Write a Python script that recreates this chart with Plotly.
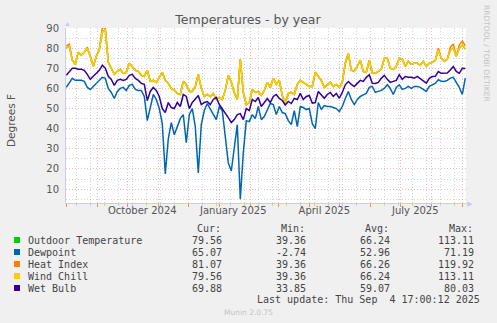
import plotly.graph_objects as go
import pandas as pd

dates = pd.date_range("2024-08-01", periods=134, freq="3D")

outdoor_temp = [
    80, 81, 74, 72, 78, 76.5, 78, 80, 76, 71,
    76, 79, 88, 89, 73, 70, 67, 68.5, 69.5, 67.5,
    68, 72.5, 71, 69, 68.5, 66.5, 66, 69, 63.5, 64,
    63, 65.5, 68, 64, 62.5, 60, 59, 57.5, 57, 63.5,
    62, 58.5, 58.5, 61, 67, 60, 56, 57, 56, 57.5,
    54.5, 55.5, 54.5, 59, 66.5, 63, 58, 54.5, 74.5, 58,
    52, 53, 59.5, 58, 58.5, 56.5, 59, 63, 60.5, 65,
    62, 64, 56.5, 52.7, 57.5, 58, 57, 62, 64, 63,
    62, 61, 61, 68, 66, 64, 60.5, 62, 63, 61,
    62, 60.5, 63, 72.5, 77.5, 69, 68.5, 71, 74, 68.5,
    68, 74, 67.5, 67.5, 68.5, 69.5, 75, 75, 70, 69.5,
    71, 75, 74.5, 71, 73.5, 72, 72.5, 72.5, 71.5, 73.5,
    71, 72.5, 73, 74, 79, 75, 73.5, 74.5, 79, 80,
    76, 80, 81.5, 79.56,
]

dewpoint = [
    60.5, 62.5, 65, 64, 64, 64, 63.5, 60.5, 59.5, 61,
    63, 64.5, 65.5, 65, 60, 58, 55, 58.5, 60, 60.5,
    59, 61.5, 62, 59.5, 59, 59, 56, 44, 51, 57,
    54.5, 50, 42.5, 17.5, 35, 43, 37, 41, 45, 47,
    33, 47, 50, 41, 18, 42, 49, 52.5, 50, 47,
    44.5, 51, 49, 36, 23, 19, 32, 42, 5, 28,
    44, 43.5, 47, 45, 51, 44.5, 46, 49, 52.5, 52,
    47, 51, 48, 47.5, 44, 42, 49, 41, 51, 50.5,
    49.5, 50, 42.5, 40, 53, 49.5, 51.5, 51, 51, 50.5,
    50, 48.5, 51, 55, 58.5, 54.5, 52, 54.5, 56, 56.8,
    57.5, 60.5, 61, 58, 58.5, 59, 60, 61.8, 60, 57,
    60.5, 61.8, 59.5, 60, 61, 60, 61, 61, 60.5, 59.5,
    58.5, 61, 61.8, 62.5, 64.3, 63.5, 63.4, 64, 65.1, 65.5,
    63, 60.5, 57, 65.07,
]

heat_index = [
    81, 82, 74, 72, 78, 76.5, 78, 80.5, 76, 71,
    76, 79.5, 90, 90.3, 73, 70, 67, 68.5, 69.5, 67.5,
    68, 72.5, 71, 69, 68.5, 66.5, 66, 69, 63.5, 64,
    63, 65.5, 68, 64, 62.5, 60, 59, 57.5, 57, 63.5,
    62, 58.5, 58.5, 61, 67, 60, 56, 57, 56, 57.5,
    54.5, 55.5, 54.5, 59, 66.5, 63, 58, 54.5, 74.5, 58,
    52, 53, 59.5, 58, 58.5, 56.5, 59, 63, 60.5, 65,
    62, 64, 56.5, 52.7, 57.5, 58, 57, 62, 64, 63,
    62, 61, 61, 68, 66, 64, 60.5, 62, 63, 61,
    62, 60.5, 63, 72.5, 77.5, 69, 68.5, 71, 74, 68.5,
    68, 74, 67.5, 67.5, 68.5, 69.5, 75, 75, 70, 69.5,
    71, 75, 74.5, 71, 73.5, 72, 72.5, 72.5, 71.5, 73.5,
    71, 72.5, 73, 74, 80, 75, 73.5, 74.5, 80.5, 82,
    76, 81.5, 83.5, 81.07,
]

wind_chill = list(outdoor_temp)  # coincides with the outdoor temperature in the picture

wet_bulb = [
    66.5, 68.5, 70, 70, 69.5, 69.5, 69, 67, 64.5, 66,
    67.5, 69, 71.5, 70, 66, 64.5, 61.5, 64, 64.5, 64,
    64.5, 66.5, 67, 65, 64, 62.5, 62, 54, 58.5, 60.5,
    59, 56, 50, 48, 53, 50.5, 50, 53, 51, 57,
    56, 50, 53, 54.5, 56.5, 52, 53, 53.5, 52, 54.5,
    55.5, 52, 50, 47.5, 45.5, 43, 44.5, 47, 47.5, 44.5,
    50, 49, 54.5, 53.5, 55.5, 51, 53, 55, 53, 56,
    57, 55, 54, 51.8, 53.5, 52.5, 55, 54.5, 57.5, 54.5,
    56, 56.5, 52.7, 53, 58.5, 57, 55.1, 57, 58, 56,
    57.5, 55.1, 58, 61.8, 63.4, 62, 60.9, 62.5, 64, 63.5,
    65.5, 66.8, 62.6, 62.5, 63, 65, 66.5, 64.5, 63, 63.5,
    64, 66.8, 64.5, 65.9, 65.5, 65.5, 65.1, 66, 65, 64,
    62.6, 65, 65.9, 66, 68.4, 67.5, 67.6, 67.6, 69.2, 70.9,
    68.4, 67.5, 70, 69.88,
]

series_names = ["Outdoor Temperature", "Dewpoint", "Heat Index", "Wind Chill", "Wet Bulb"]
series_values = [outdoor_temp, dewpoint, heat_index, wind_chill, wet_bulb]
series_colors = ["#00CC00", "#0066B3", "#FF8000", "#FFCC00", "#330099"]

cur_vals = ["79.56", "65.07", "81.07", "79.56", "69.88"]
min_vals = ["39.36", "-2.74", "39.36", "39.36", "33.85"]
avg_vals = ["66.24", "52.96", "66.26", "66.24", "59.07"]
max_vals = ["113.11", "71.19", "119.92", "113.11", "80.03"]

month_label_dates = ["2024-10-16", "2025-01-15", "2025-04-16", "2025-07-16"]
month_labels = ["October 2024", "January 2025", "April 2025", "July 2025"]

x_range = ["2024-07-31 17:00", "2025-09-04 17:00"]
y_range = [3.1, 90]

# ---------------- layout geometry (pixels) ----------------
W, H = 497, 323
L, R, T, B = 66, 466, 28, 203

def px(x):
    return (x - L) / (R - L)

def py(y):
    return (B - y) / (B - T)

SANS = "DejaVu Sans"
MONO = "DejaVu Sans Mono"
TXT = "#555555"
LEG = "#444444"

fig = go.Figure()
for name, vals, col in zip(series_names, series_values, series_colors):
    fig.add_trace(go.Scatter(x=dates, y=vals, mode="lines", name=name,
                             line=dict(color=col, width=1.5),
                             showlegend=False, hoverinfo="skip"))

# carrier for the month label axis (draws nothing)
fig.add_trace(go.Scatter(x=month_label_dates, y=[None] * len(month_label_dates),
                         xaxis="x2", yaxis="y", mode="lines",
                         showlegend=False, hoverinfo="skip"))

annotations = []

annotations.append(dict(text="Degrees F", xref="paper", yref="paper",
                        x=px(11), y=py(120), textangle=-90, showarrow=False,
                        font=dict(family=SANS, size=10.5, color=TXT),
                        xanchor="center", yanchor="middle"))

annotations.append(dict(text="RRDTOOL / TOBI OETIKER", xref="paper", yref="paper",
                        x=px(487), y=py(53), textangle=90, showarrow=False,
                        font=dict(family=SANS, size=7.5, color="#c4c4c4"),
                        xanchor="center", yanchor="middle"))

annotations.append(dict(text="▲", xref="paper", yref="paper", x=px(67), y=py(23),
                        showarrow=False, font=dict(size=7, color="#c8c8f4"),
                        xanchor="center", yanchor="middle"))
annotations.append(dict(text="▶", xref="paper", yref="paper", x=px(470), y=py(203),
                        showarrow=False, font=dict(size=7, color="#c8c8f4"),
                        xanchor="center", yanchor="middle"))

hdr_y = 228
for txt, xl in zip(["Cur:", "Min:", "Avg:", "Max:"], [195, 279, 363, 447]):
    annotations.append(dict(text=txt, xref="paper", yref="paper", x=px(xl), y=py(hdr_y),
                            showarrow=False, xanchor="left", yanchor="middle",
                            font=dict(family=MONO, size=10, color=LEG)))

shapes = []
row_y0, row_dy = 240, 12
for i, name in enumerate(series_names):
    yy = row_y0 + i * row_dy
    shapes.append(dict(type="rect", xref="paper", yref="paper",
                       x0=px(14), x1=px(20), y0=py(yy + 3), y1=py(yy - 3),
                       fillcolor=series_colors[i], line=dict(width=0)))
    annotations.append(dict(text=name, xref="paper", yref="paper", x=px(26), y=py(yy),
                            showarrow=False, xanchor="left", yanchor="middle",
                            font=dict(family=MONO, size=10, color=LEG)))
    for vals, xr in zip([cur_vals, min_vals, avg_vals, max_vals], [224, 308, 392, 476]):
        annotations.append(dict(text=vals[i], xref="paper", yref="paper", x=px(xr), y=py(yy),
                                showarrow=False, xanchor="right", yanchor="middle",
                                font=dict(family=MONO, size=10, color=LEG)))

annotations.append(dict(text="Last update: Thu Sep&nbsp; 4 17:00:12 2025",
                        xref="paper", yref="paper", x=px(482), y=py(299),
                        showarrow=False, xanchor="right", yanchor="middle",
                        font=dict(family=MONO, size=10, color=LEG)))
annotations.append(dict(text="Munin 2.0.75", xref="paper", yref="paper", x=px(248), y=py(312),
                        showarrow=False, xanchor="center", yanchor="middle",
                        font=dict(family=SANS, size=7.5, color="#c4c4c4")))

RED_GRID = "rgba(225,120,120,0.5)"
GRAY_GRID = "rgba(160,160,160,0.45)"
AXIS_LINE = "#ccccee"
DOTS = "1px,2px"

fig.update_layout(
    width=W, height=H,
    margin=dict(l=L, r=W - R, t=T, b=H - B, pad=0),
    paper_bgcolor="#F0F0F0", plot_bgcolor="#FFFFFF",
    showlegend=False,
    title=dict(text="Temperatures - by year", x=248 / W, xref="container", xanchor="center",
               y=1 - 19.5 / H, yref="container", yanchor="middle",
               font=dict(family=SANS, size=12.5, color=TXT)),
    xaxis=dict(type="date", range=x_range, tick0="2024-08-01", dtick="M1",
               showticklabels=False, showgrid=True, gridcolor=RED_GRID, griddash=DOTS,
               gridwidth=1, ticks="outside", ticklen=3, tickcolor="rgba(225,110,110,0.8)",
               showline=True, linecolor=AXIS_LINE, linewidth=1, zeroline=False,
               minor=dict(tick0="2024-08-11", dtick=14 * 86400000, showgrid=True,
                          gridcolor=GRAY_GRID, griddash=DOTS, ticks="outside",
                          ticklen=2, tickcolor="#cccccc")),
    xaxis2=dict(type="date", range=x_range, overlaying="x", anchor="y", side="bottom",
                tickmode="array", tickvals=month_label_dates, ticktext=month_labels,
                showgrid=False, showline=False, zeroline=False, ticks="",
                tickfont=dict(family=SANS, size=10, color=TXT)),
    yaxis=dict(range=y_range, tick0=0, dtick=10, showgrid=True, gridcolor=RED_GRID,
               griddash=DOTS, gridwidth=1, zeroline=False, ticks="",
               showline=True, linecolor=AXIS_LINE, linewidth=1,
               tickfont=dict(family=SANS, size=10, color=TXT), ticklabelstandoff=4,
               minor=dict(dtick=5, tick0=0, showgrid=True, gridcolor=GRAY_GRID,
                          griddash=DOTS)),
    annotations=annotations,
    shapes=shapes,
)

fig.write_html("out.html", config={"displayModeBar": False})
